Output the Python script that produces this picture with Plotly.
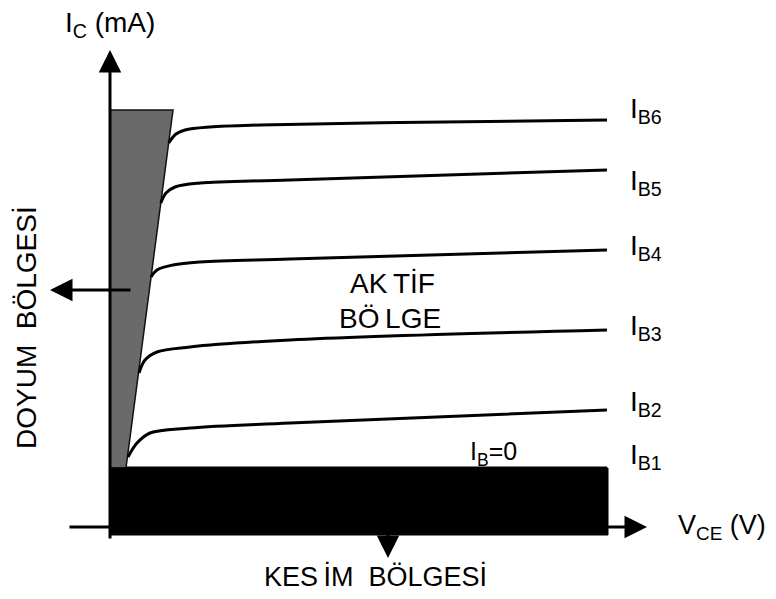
import plotly.graph_objects as go

# BJT output characteristic sketch (arbitrary units, 0,0 = axis origin)
vce_b6 = [5.87, 6.6, 7.5, 10, 15, 29, 49.7]
ic_b6 = [38.4, 39.3, 39.7, 40.0, 40.2, 40.45, 40.7]
vce_b5 = [5.08, 5.6, 6.5, 9, 18, 49.7]
ic_b5 = [32.4, 33.4, 34.0, 34.4, 34.7, 35.7]
vce_b4 = [4.1, 4.7, 6.3, 9, 18, 49.7]
ic_b4 = [25.0, 25.7, 26.2, 26.5, 26.8, 27.7]
vce_b3 = [2.9, 3.5, 4.7, 8, 18, 49.7]
ic_b3 = [15.4, 16.7, 17.5, 18.0, 18.7, 19.7]
vce_b2 = [1.8, 2.7, 4.0, 8, 18, 49.7]
ic_b2 = [7.0, 8.4, 9.4, 9.9, 10.4, 11.7]
vce_b1 = [1.6, 49.7]
ic_b1 = [5.9, 5.9]

curves = [(vce_b6, ic_b6), (vce_b5, ic_b5), (vce_b4, ic_b4),
          (vce_b3, ic_b3), (vce_b2, ic_b2), (vce_b1, ic_b1)]
curve_labels = ["I<sub>B6</sub>", "I<sub>B5</sub>", "I<sub>B4</sub>",
                "I<sub>B3</sub>", "I<sub>B2</sub>", "I<sub>B1</sub>"]
label_y = [41.7, 34.5, 28.0, 20.0, 12.4, 7.1]

# saturation (gray) and cut-off (black) regions
sat_x = [0, 6.3, 1.6, 0, 0]
sat_y = [41.7, 41.7, 5.9, 5.9, 41.7]
cut_x = [0, 49.8, 49.8, 0, 0]
cut_y = [5.9, 5.9, -0.8, -0.8, 5.9]

FONT = "Liberation Sans, Arial, sans-serif"
TS = "\u2009"  # thin space, the scan has loose letter spacing

fig = go.Figure()

fig.add_trace(go.Scatter(x=sat_x, y=sat_y, fill="toself", fillcolor="#6a6a6a",
                         mode="lines", line=dict(color="#111111", width=1.5),
                         hoverinfo="skip"))

for vx, iy in curves:
    fig.add_trace(go.Scatter(x=vx, y=iy, mode="lines",
                             line=dict(color="black", width=3, shape="spline", smoothing=1.0),
                             hoverinfo="skip"))

fig.add_trace(go.Scatter(x=[36.0], y=[7.3], mode="text", text=["I<sub>B</sub>=0"],
                         textposition="middle right",
                         textfont=dict(family=FONT, size=25, color="black"),
                         hoverinfo="skip"))

fig.add_trace(go.Scatter(x=cut_x, y=cut_y, fill="toself", fillcolor="black",
                         mode="lines", line=dict(color="black", width=1),
                         hoverinfo="skip"))

# axes arrows and region arrows
arrows = [((0, 47.7), (0, -1.3)),
          ((53.7, 0), (-4.2, 0)),
          ((-6.0, 23.7), (2.2, 23.7)),
          ((27.8, -3.1), (27.8, 0))]
for (x, y), (ax, ay) in arrows:
    fig.add_annotation(x=x, y=y, ax=ax, ay=ay, xref="x", yref="y", axref="x", ayref="y",
                       showarrow=True, arrowhead=2, arrowsize=1.5, arrowwidth=3,
                       arrowcolor="black", text="")

for lab, ly in zip(curve_labels, label_y):
    fig.add_annotation(x=51.8, y=ly, text=lab, showarrow=False, xanchor="left",
                       yanchor="middle", font=dict(family=FONT, size=28, color="black"))

texts = [
    ("I<sub>C</sub> (mA)", 0, 50.3, 28, 0),
    ("V<sub>CE</sub> (V)", 61.2, 0, 27, 0),
    ("AK" + TS + "TİF", 28.2, 24.4, 28, 0),
    ("BÖ" + TS + "LGE", 28.0, 20.9, 28, 0),
    ("KES" + TS + "İM  BÖLGESİ", 26.5, -4.9, 27, 0),
    ("DOYUM  BÖLGESİ", -8.4, 19.9, 28, -90),
]
for t, x, y, s, ang in texts:
    fig.add_annotation(x=x, y=y, text=t, showarrow=False, textangle=ang,
                       font=dict(family=FONT, size=s, color="black"))

# page body has an 8px margin, so the figure is 8px smaller and its ranges shifted
fig.update_layout(
    width=768, height=591,
    margin=dict(l=0, r=0, t=0, b=0),
    plot_bgcolor="white", paper_bgcolor="white",
    showlegend=False,
    xaxis=dict(range=[-10.2, 66.6], visible=False, fixedrange=True),
    yaxis=dict(range=[-7.2, 51.9], visible=False, fixedrange=True),
)

fig.write_html("out.html")
